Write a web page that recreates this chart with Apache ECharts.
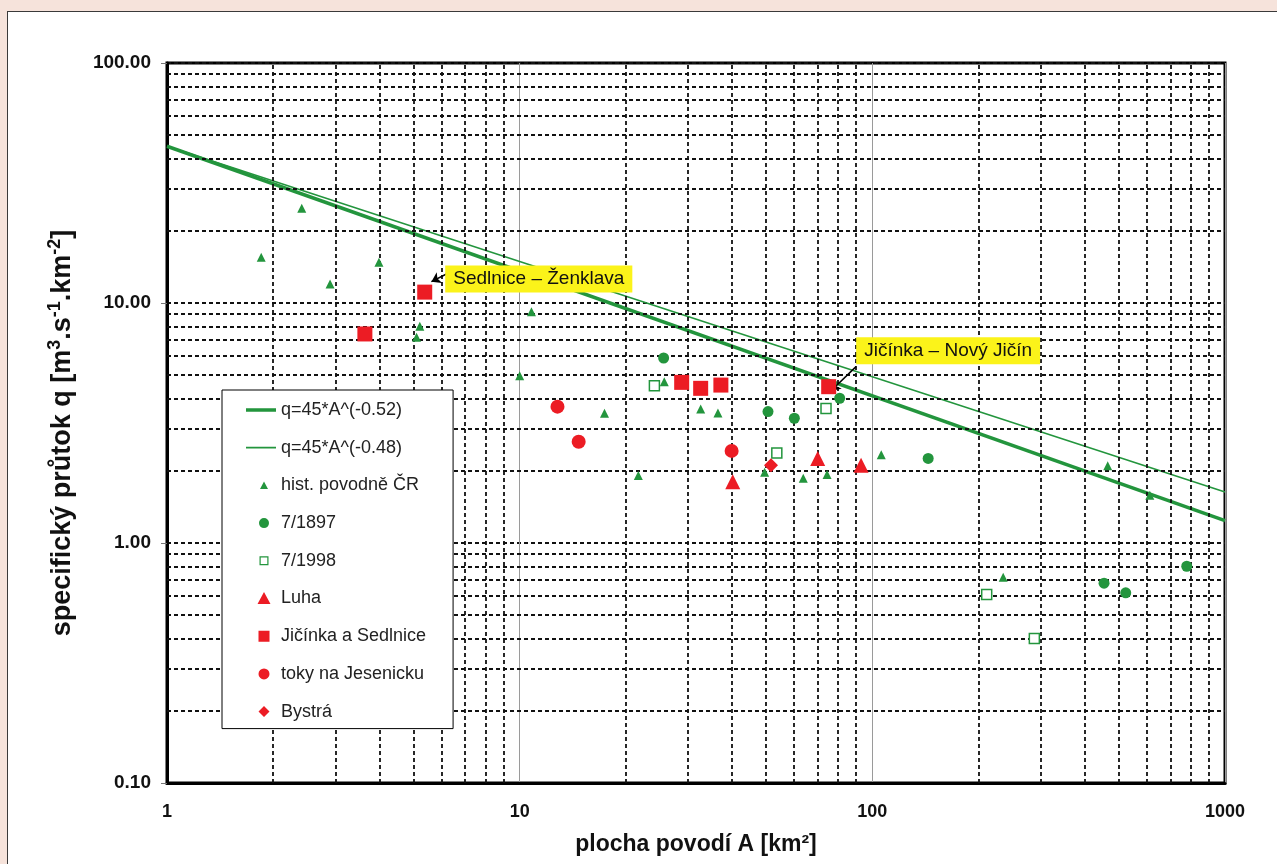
<!DOCTYPE html>
<html>
<head>
<meta charset="utf-8">
<title>specifický průtok</title>
<script src="https://cdn.jsdelivr.net/npm/echarts@6/dist/echarts.min.js"></script>
<style>
	html, body { margin: 0; padding: 0; width: 1277px; height: 864px; overflow: hidden; background: #f6e3db; }
	#card { position: absolute; left: 7px; top: 11px; width: 1290px; height: 880px; background: #fff; border: 1px solid #3a3a3a; }
	#chart { position: absolute; left: 0; top: 0; width: 1277px; height: 864px; }
</style>
</head>
<body>
<div id="card"></div>
<div id="chart"></div>
<script>
// obalové křivky, koncové body [A, q]
var lineThick = [[1, 45], [1000, 1.24]];     // q=45*A^(-0.52)
var lineThin = [[1, 45], [1000, 1.63]];      // q=45*A^(-0.48)

// body [A, q]
var histPovodne = [[1.85, 15.5], [2.41, 24.8], [2.90, 12.0], [3.99, 14.8], [5.21, 8.0], [5.10, 7.2],
	[10.0, 4.98], [10.8, 9.2], [17.4, 3.47], [21.7, 1.91], [25.7, 4.7], [32.6, 3.62], [36.5, 3.48],
	[49.5, 1.97], [63.7, 1.86], [74.4, 1.93], [106, 2.33], [235, 0.72], [465, 2.10], [612, 1.58]];
var flood1897 = [[25.6, 5.9], [50.6, 3.53], [60.1, 3.31], [80.8, 4.01], [144, 2.25], [454, 0.68], [523, 0.62], [779, 0.80]];
var flood1998 = [[24.1, 4.52], [53.6, 2.37], [73.9, 3.63], [211, 0.61], [288, 0.40]];
var luha = [[40.2, 1.80], [70.0, 2.25], [92.9, 2.11]];
var jicinkaSedlnice = [[3.64, 7.43], [5.38, 11.1], [28.8, 4.67], [32.6, 4.41], [37.2, 4.55], [75.2, 4.48]];
var tokyJesenicku = [[12.8, 3.70], [14.7, 2.64], [39.9, 2.42]];
var bystra = [[51.6, 2.11]];

// popisky: index bodu v jicinkaSedlnice, text, sipka [od, do]
var noteSedlnice = { index: 1, text: 'Sedlnice – Ženklava', arrow: [[6.26, 13.3], [5.62, 12.27]] };
var noteJicin = { index: 5, text: 'Jičínka – Nový Jičín', arrow: [[89.9, 5.43], [76.4, 4.31]] };

// vedlejsi mrizka
var xMinorTicks = [2, 3, 4, 5, 6, 7, 8, 9, 20, 30, 40, 50, 60, 70, 80, 90, 200, 300, 400, 500, 600, 700, 800, 900];
var yMinorTicks = [0.2, 0.3, 0.4, 0.5, 0.6, 0.7, 0.8, 0.9, 2, 3, 4, 5, 6, 7, 8, 9, 20, 30, 40, 50, 60, 70, 80, 90];

var GREEN = '#23953d';
var RED = '#ec1c24';
var FONT = '"Liberation Sans", Arial, sans-serif';

// ikony legendy v ramu 30x16 (rohove body drzi meritko)
var ICON_FRAME = 'path://M0,0 Z M30,16 Z ';
var legendIcons = {
	'q=45*A^(-0.52)': 'M0,6.2 H30 V9.8 H0 Z',
	'q=45*A^(-0.48)': 'M0,7.1 H30 V8.9 H0 Z',
	'hist. povodně ČR': 'M18,4 L22,11.5 L14,11.5 Z',
	'7/1897': 'M13,8 A5,5 0 1 1 23,8 A5,5 0 1 1 13,8 Z',
	'7/1998': 'M13.5,3.5 H22.5 V12.5 H13.5 Z M14.7,4.7 V11.3 H21.3 V4.7 Z',
	'Luha': 'M18,1.5 L24.5,13.5 L11.5,13.5 Z',
	'Jičínka a Sedlnice': 'M12.5,2.5 H23.5 V13.5 H12.5 Z',
	'toky na Jesenicku': 'M12.5,8 A5.5,5.5 0 1 1 23.5,8 A5.5,5.5 0 1 1 12.5,8 Z',
	'Bystrá': 'M18,2.5 L23.5,8 L18,13.5 L12.5,8 Z'
};
var legendColors = {
	'q=45*A^(-0.52)': GREEN, 'q=45*A^(-0.48)': GREEN, 'hist. povodně ČR': GREEN, '7/1897': GREEN, '7/1998': GREEN,
	'Luha': RED, 'Jičínka a Sedlnice': RED, 'toky na Jesenicku': RED, 'Bystrá': RED
};

var chartGraph = {

	/**
	 * data s popisky
	 */
	buildSquares : function() {
		var data = [];
		for (var i = 0; i < jicinkaSedlnice.length; i++) {
			data.push({ value: jicinkaSedlnice[i] });
		}
		data[noteSedlnice.index].label = chartGraph.noteLabel(noteSedlnice.text, 13, [0, -13]);
		data[noteJicin.index].label = chartGraph.noteLabel(noteJicin.text, 20, [0, -36]);
		return data;
	},

	noteLabel : function(text, distance, offset) {
		return {
			show: true,
			formatter: text,
			position: 'right',
			distance: distance,
			offset: offset,
			backgroundColor: '#fbf31a',
			padding: [5, 8, 3, 8],
			color: '#111',
			fontFamily: FONT,
			fontSize: 19
		};
	},

	buildGridLines : function() {
		var data = [];
		for (var i = 0; i < xMinorTicks.length; i++) {
			data.push({ xAxis: xMinorTicks[i] });
		}
		for (var j = 0; j < yMinorTicks.length; j++) {
			data.push({ yAxis: yMinorTicks[j] });
		}
		return data;
	},

	buildLegendData : function() {
		var data = [];
		for (var name in legendIcons) {
			data.push({
				name: name,
				icon: ICON_FRAME + legendIcons[name],
				itemStyle: { color: legendColors[name], borderWidth: 0, opacity: 1 }
			});
		}
		return data;
	},

	scatter : function(name, data, symbol, size, color, open) {
		return {
			name: name,
			type: 'scatter',
			data: data,
			symbol: symbol,
			symbolSize: size,
			z: 5,
			itemStyle: open ? { color: '#fff', borderColor: color, borderWidth: 1.5, opacity: 1 } : { color: color, opacity: 1 }
		};
	},

	showChart : function() {
		var myChart = echarts.init(document.getElementById('chart'));
		var arrowLine = {
			silent: true,
			symbol: ['none', 'arrow'],
			symbolSize: 9,
			label: { show: false },
			lineStyle: { color: '#000', width: 1.5, type: 'solid' },
			data: [
				[{ coord: noteSedlnice.arrow[0] }, { coord: noteSedlnice.arrow[1] }],
				[{ coord: noteJicin.arrow[0] }, { coord: noteJicin.arrow[1] }]
			]
		};
		var squares = chartGraph.scatter('Jičínka a Sedlnice', chartGraph.buildSquares(), 'rect', 15, RED);
		squares.markLine = arrowLine;

		var option = {
			animation: false,
			textStyle: { fontFamily: FONT },
			grid: {
				left: 167, right: 52, top: 63, bottom: 81,
				show: true, borderColor: '#000', borderWidth: 3, backgroundColor: 'transparent'
			},
			legend: {
				left: 222, top: 390,
				z: 20,
				orient: 'vertical',
				backgroundColor: '#fff',
				borderColor: '#000',
				borderWidth: 1,
				borderRadius: 0,
				padding: [10, 27, 7, 24],
				itemWidth: 30,
				itemHeight: 16,
				itemGap: 17.7,
				symbolKeepAspect: true,
				textStyle: { fontFamily: FONT, fontSize: 18, color: '#222', lineHeight: 20 },
				data: chartGraph.buildLegendData()
			},
			xAxis: {
				type: 'log',
				logBase: 10,
				min: 1,
				max: 1000,
				name: 'plocha povodí A [km²]',
				nameLocation: 'middle',
				nameGap: 50,
				nameTextStyle: { fontFamily: FONT, fontSize: 23, fontWeight: 'bold', color: '#111' },
				axisLine: { lineStyle: { color: '#000', width: 3 } },
				axisTick: { show: false },
				axisLabel: {
					margin: 20, fontSize: 18, fontWeight: 'bold', color: '#111',
					formatter: function(v) { return String(Math.round(v)); }
				},
				splitLine: { show: true, lineStyle: { color: '#9a9a9a', width: 1, type: 'solid' } }
			},
			yAxis: {
				type: 'log',
				logBase: 10,
				min: 0.1,
				max: 100,
				name: '{a|specifický průtok q [m}{s|3}{a|.s}{s|-1}{a|.km}{s|-2}{a|]}',
				nameLocation: 'middle',
				nameGap: 87,
				nameTextStyle: {
					fontFamily: FONT, fontSize: 27, fontWeight: 'bold', color: '#111', padding: [0, 20, 0, 0],
					rich: {
						a: { fontFamily: FONT, fontSize: 27, fontWeight: 'bold', color: '#111', lineHeight: 34 },
						s: { fontFamily: FONT, fontSize: 18, fontWeight: 'bold', color: '#111', lineHeight: 20, verticalAlign: 'top' }
					}
				},
				axisLine: { lineStyle: { color: '#000', width: 3 } },
				axisTick: { show: true, length: 6, lineStyle: { color: '#777', width: 1 } },
				axisLabel: {
					margin: 16, fontSize: 19, fontWeight: 'bold', color: '#111',
					formatter: function(v) { return v.toFixed(2); }
				},
				splitLine: { show: true, lineStyle: { color: '#111', width: 1.8, type: [4, 3] } }
			},
			series: [
				{
					name: 'mrizka',
					type: 'line',
					data: [],
					z: 1,
					markLine: {
						silent: true,
						symbol: 'none',
						label: { show: false },
						lineStyle: { color: '#111', width: 1.8, type: [4, 3] },
						data: chartGraph.buildGridLines()
					}
				},
				{
					name: 'q=45*A^(-0.52)',
					type: 'line',
					data: lineThick,
					symbol: 'none',
					z: 3,
					lineStyle: { color: GREEN, width: 3.5 },
					itemStyle: { color: GREEN }
				},
				{
					name: 'q=45*A^(-0.48)',
					type: 'line',
					data: lineThin,
					symbol: 'none',
					z: 3,
					lineStyle: { color: GREEN, width: 1.6 },
					itemStyle: { color: GREEN }
				},
				chartGraph.scatter('hist. povodně ČR', histPovodne, 'triangle', 9, GREEN),
				chartGraph.scatter('7/1897', flood1897, 'circle', 11, GREEN),
				chartGraph.scatter('7/1998', flood1998, 'rect', 10, GREEN, true),
				chartGraph.scatter('Luha', luha, 'triangle', 15, RED),
				squares,
				chartGraph.scatter('toky na Jesenicku', tokyJesenicku, 'circle', 14, RED),
				chartGraph.scatter('Bystrá', bystra, 'diamond', 14, RED)
			]
		};
		myChart.setOption(option);
	}
};

chartGraph.showChart();
</script>
</body>
</html>
